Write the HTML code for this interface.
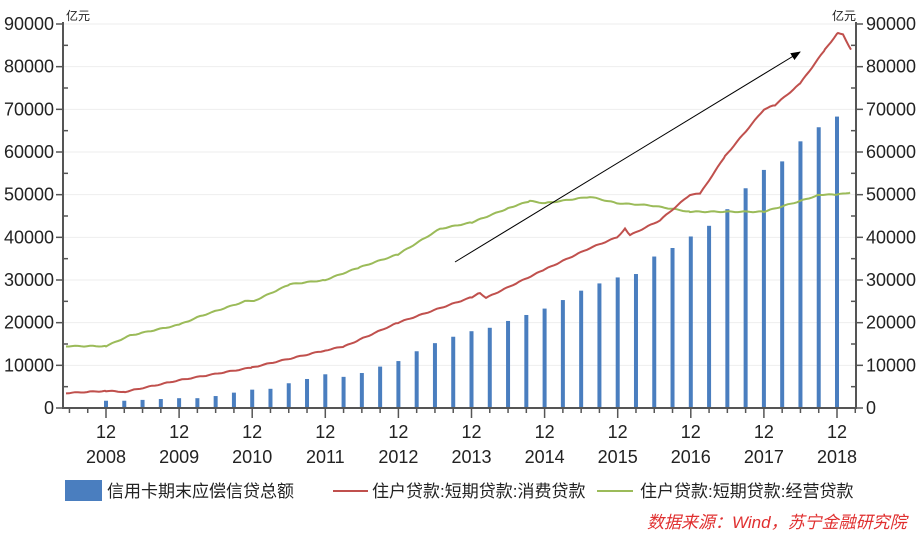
<!DOCTYPE html>
<html><head><meta charset="utf-8">
<style>
html,body{margin:0;padding:0;background:#fff;width:922px;height:535px;overflow:hidden}
svg text{font-family:"Liberation Sans","Noto Sans CJK SC",sans-serif;fill:#222}
</style></head><body>
<svg id="s" width="922" height="535" xmlns="http://www.w3.org/2000/svg">
<defs><marker id="ah" markerWidth="10" markerHeight="8" refX="9" refY="4" orient="auto" markerUnits="userSpaceOnUse"><path d="M0,0 L10,4 L0,8 z" fill="#000"/></marker></defs>
<g id="grid"></g>
<g id="bars" fill="#4a7ebf"></g>
<polyline id="green" fill="none" stroke="#9bbb59" stroke-width="2"/>
<polyline id="red" fill="none" stroke="#c0504d" stroke-width="2"/>
<line x1="455" y1="262" x2="800" y2="52" stroke="#000" stroke-width="1" marker-end="url(#ah)"/>
<g id="axes" stroke="#555" stroke-width="2"></g>
<g id="labels" font-size="18"></g>
<text x="66" y="20" font-size="12">亿元</text>
<text x="832" y="20" font-size="12">亿元</text>
<rect x="65" y="480" width="37" height="21" fill="#4a7ebf"/>
<text x="107" y="497" font-size="17">信用卡期末应偿信贷总额</text>
<line x1="333" y1="491" x2="368" y2="491" stroke="#c0504d" stroke-width="2"/>
<text x="372" y="497" font-size="17">住户贷款:短期贷款:消费贷款</text>
<line x1="597" y1="491" x2="633" y2="491" stroke="#9bbb59" stroke-width="2"/>
<text x="640" y="497" font-size="17">住户贷款:短期贷款:经营贷款</text>
<text x="647" y="528" font-size="17" font-style="italic" style="fill:#e03030">数据来源：Wind，苏宁金融研究院</text>
</svg>
<script>
var ns="http://www.w3.org/2000/svg";
function Y(v){return 408-v*384/90000;}
function el(p,t,a,txt){var e=document.createElementNS(ns,t);for(var k in a)e.setAttribute(k,a[k]);if(txt!==undefined)e.textContent=txt;document.getElementById(p).appendChild(e);return e;}
for(var v=10000;v<=90000;v+=10000)el("grid","line",{x1:64,x2:856,y1:Y(v),y2:Y(v),stroke:"#eee","stroke-width":1});
var b=[1.7,1.7,1.9,2.1,2.3,2.3,2.8,3.6,4.3,4.5,5.8,6.8,7.9,7.3,8.2,9.7,11,13.3,15.2,16.7,18,18.8,20.4,21.8,23.3,25.3,27.5,29.2,30.6,31.4,35.5,37.5,40.2,42.7,46.6,51.5,55.8,57.8,62.5,65.8,68.3];
for(var i=0;i<b.length;i++){var x=106+i*18.275;el("bars","rect",{x:x-2,y:Y(b[i]*1000),width:4,height:408-Y(b[i]*1000)});}
function line(id,pts){var out=[];for(var i=0;i<pts.length-1;i++){var a=pts[i],c=pts[i+1];for(var x=a[0];x<c[0];x+=3){var t=(x-a[0])/(c[0]-a[0]);var v=a[1]+(c[1]-a[1])*t;v+=Math.sin(x*1.7)*0.1;out.push(x+","+Y(v*1000).toFixed(1));}}var l=pts[pts.length-1];out.push(l[0]+","+Y(l[1]*1000));document.getElementById(id).setAttribute("points",out.join(" "));}
line("red",[[66,3.5],[106,4],[125,3.8],[179,6.5],[252,9.5],[325,13.5],[345,14.5],[398,20],[472,26],[480,27],[486,25.8],[545,32.5],[590,37.5],[617,40],[625,42],[630,40.5],[660,44],[690,50],[700,50.2],[725,59],[764,70],[775,71],[800,76],[825,84],[838,88],[843,87.5],[851,84]]);
line("green",[[66,14.5],[106,14.5],[130,17],[179,19.5],[200,21.5],[245,25],[255,25.2],[290,29],[325,30],[360,33],[398,36],[440,42],[472,43.5],[510,47],[530,48.5],[545,48],[590,49.5],[617,48],[650,47.5],[690,46],[764,46],[800,48.5],[820,50],[837,50],[850,50.5]]);
el("axes","line",{x1:63,y1:22,x2:63,y2:409});el("axes","line",{x1:856,y1:22,x2:856,y2:409});el("axes","line",{x1:62,y1:408,x2:857,y2:408});
for(var v=0;v<=90000;v+=5000){var big=v%10000==0;el("axes","line",{x1:big?56:63,x2:big?63:68,y1:Y(v),y2:Y(v),"stroke-width":1.5});el("axes","line",{x1:big?863:856,x2:big?856:851,y1:Y(v),y2:Y(v),"stroke-width":1.5});
if(big){el("labels","text",{x:54,y:Y(v)+6,"text-anchor":"end"},v);el("labels","text",{x:866,y:Y(v)+6},v);}}
for(var i=-2;i<=41;i++){var x=106+i*18.275;if(x<64||x>856)continue;var mj=(i%4==0);el("axes","line",{x1:x,x2:x,y1:408,y2:mj?418:413,"stroke-width":1.5});
if(mj){var yr=2008+i/4;el("labels","text",{x:x,y:438,"text-anchor":"middle"},"12");el("labels","text",{x:x,y:463,"text-anchor":"middle"},yr);}}
</script>
</body></html>
